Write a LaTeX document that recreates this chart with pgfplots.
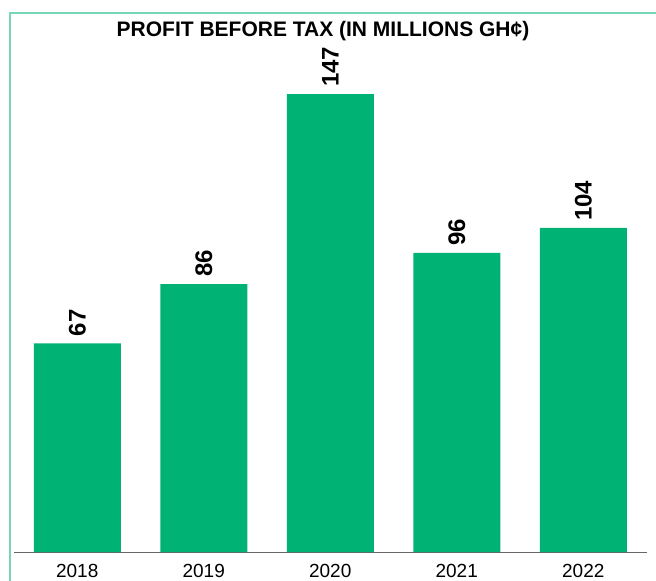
\documentclass[border=0pt]{standalone}
\usepackage{fontspec}
\setmainfont{Liberation Sans}
\usepackage{pgfplots}
\pgfplotsset{compat=1.18}
\definecolor{bargreen}{RGB}{0,178,115}
\definecolor{framegreen}{RGB}{120,214,184}
\begin{document}
\begin{tikzpicture}
\useasboundingbox (-14pt,-29pt) rectangle (642pt,552pt);
% frame lines at left and top
\draw[framegreen, line width=1.4pt] (-4pt,-29pt) -- (-4pt,539pt) -- (642pt,539pt);
\begin{axis}[
  at={(0pt,0pt)}, anchor=south west,
  scale only axis, width=632.5pt, height=539pt,
  xmin=-0.5, xmax=4.5, ymin=0, ymax=173,
  axis x line=bottom, axis y line=none,
  x axis line style={gray!80!black, line width=1pt, -},
  ytick=\empty,
  xtick=data, xticklabels={2018,2019,2020,2021,2022},
  major tick length=0pt,
  xticklabel style={font=\fontsize{19}{19}\selectfont, inner sep=0pt, yshift=-12pt},
  /pgf/number format/assume math mode=true,
  ybar, bar width=87pt, bar shift=0pt,
  nodes near coords,
  every node near coord/.append style={rotate=90, anchor=west, inner xsep=7pt, inner ysep=0pt,
    font=\bfseries\fontsize{24}{24}\selectfont, black},
]
\addplot[fill=bargreen, draw=none] coordinates {(0,67) (1,86) (2,147) (3,96) (4,104)};
\end{axis}
\node[anchor=base, font=\bfseries\fontsize{21}{21}\selectfont] at (309pt,515pt) {PROFIT BEFORE TAX (IN MILLIONS GH¢)};
\end{tikzpicture}
\end{document}
